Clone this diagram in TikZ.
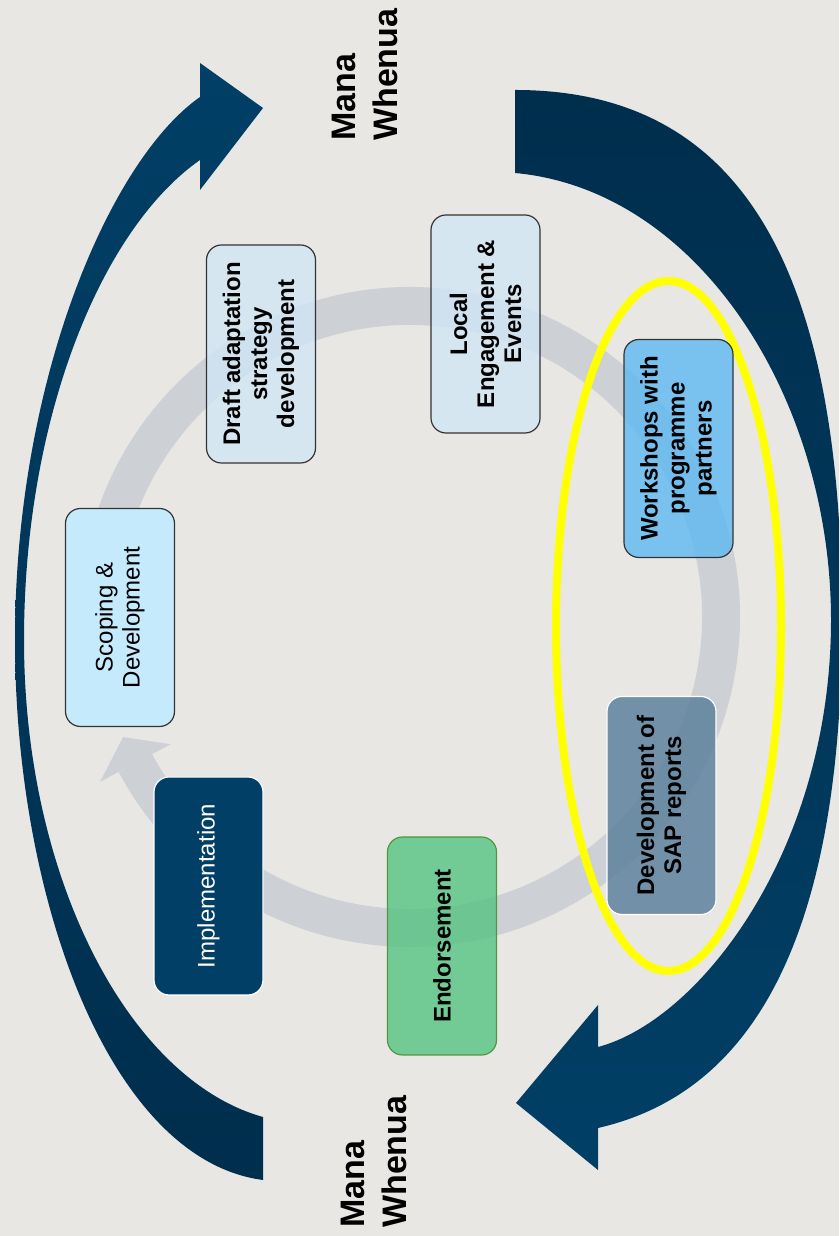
\documentclass[tikz,border=0pt]{standalone}
\usepackage{fontspec}
\setmainfont{Liberation Sans}
\usetikzlibrary{calc}

\definecolor{paper}{RGB}{233,231,228}
\definecolor{navy}{RGB}{1,63,102}
\definecolor{navydark}{RGB}{0,46,77}
\definecolor{ringgrey}{RGB}{205,209,214}
\definecolor{scopefill}{RGB}{197,234,252}
\definecolor{paleblue}{RGB}{208,230,244}
\definecolor{skyblue}{RGB}{93,185,242}
\definecolor{slate}{RGB}{85,124,153}
\definecolor{leafgreen}{RGB}{85,196,129}
\definecolor{leafedge}{RGB}{84,150,62}
\definecolor{marker}{RGB}{255,255,0}

\begin{document}
\begin{tikzpicture}[
    x=1pt, y=1pt,
    stage/.style={rectangle, rounded corners=15pt, rotate=90, minimum width=218pt, minimum height=109pt, align=center, inner sep=2pt, line width=1.2pt, font=\fontsize{24}{27}\selectfont},
    heavy/.style={font=\fontsize{24}{27}\selectfont\bfseries},
    see/.style={fill opacity=0.8, text opacity=1},
    mana/.style={rotate=90, anchor=west, align=left, inner sep=0pt, font=\fontsize{34}{42}\selectfont\bfseries}
]
    \useasboundingbox (0,0) rectangle (839,1236);
    \fill[paper] (0,0) rectangle (839,1236);
    \clip (0,0) rectangle (839,1236);

    % Mana Whenua arrows
    \shade[top color=navy, bottom color=navydark]
        (263,56) .. controls (110,76) and (15,336) .. (15,596)
        .. controls (15,856) and (110,1076) .. (200,1139)
        -- (200,1173) -- (263,1128) -- (200,1046) -- (200,1076)
        .. controls (100,1006) and (24,816) .. (24,596)
        .. controls (24,356) and (130,156) .. (263,119) -- cycle;
    \shade[top color=navydark, bottom color=navy]
        (515,1146) .. controls (730,1146) and (842,986) .. (842,616)
        .. controls (842,246) and (720,136) .. (598,108)
        -- (598,66) -- (516,133) -- (598,231) -- (598,189)
        .. controls (700,216) and (831,386) .. (831,616)
        .. controls (831,836) and (700,1046) .. (515,1063) -- cycle;

    % Cycle
    \coordinate (hub) at (410,619);
    \draw[ringgrey, line width=38pt] ($(hub)+(170:311)$) arc[start angle=170, end angle=-152, radius=311];
    \fill[ringgrey] ($(hub)+(-152:351)$) -- ($(hub)+(-157.3:311)$) -- ($(hub)+(-152:271)$) -- cycle;

    % Highlight
    \draw[marker, line width=8pt] (668.5,610) ellipse[x radius=112.5, y radius=345];

    % Stages
    \node[stage, draw=black!80, fill=scopefill] (scoping) at (120,618.5) {Scoping \&\\Development};
    \node[stage, heavy, see, draw=black!80, fill=paleblue] (draft) at (261,882) {Draft adaptation\\strategy\\development};
    \node[stage, heavy, see, draw=black!80, fill=paleblue] (local) at (485.5,912) {Local\\Engagement \&\\Events};
    \node[stage, heavy, see, draw=black!80, fill=skyblue] (workshops) at (678.5,787.5) {Workshops with\\programme\\partners};
    \node[stage, heavy, see, draw=white, fill=slate] (sap) at (661.5,430.5) {Development of\\SAP reports};
    \node[stage, heavy, see, draw=leafedge, fill=leafgreen] (endorse) at (442,290) {Endorsement};
    \node[stage, draw=white, fill=navy, text=white] (implement) at (208.5,350) {Implementation};

    % Labels
    \node[mana] (manatop) at (365,1095) {Mana\\Whenua};
    \node[mana] (manabottom) at (374,8) {Mana\\Whenua};
\end{tikzpicture}
\end{document}
